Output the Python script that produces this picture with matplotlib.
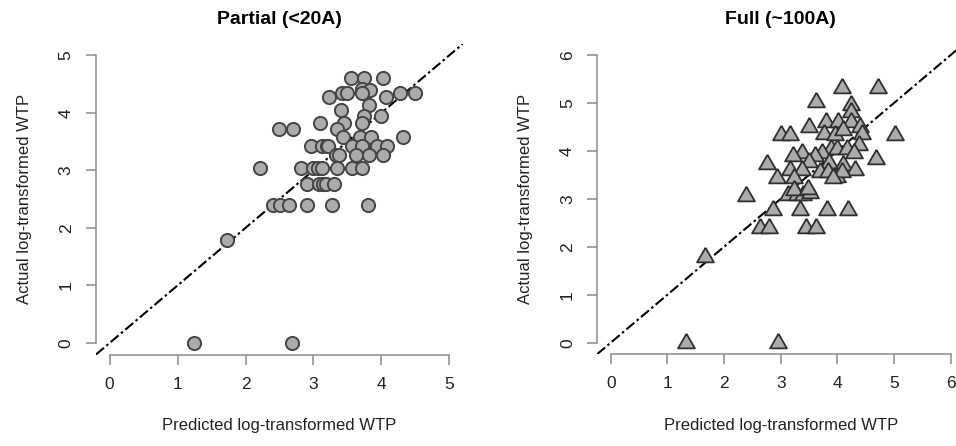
import numpy as np
import matplotlib
matplotlib.use("Agg")
import matplotlib.pyplot as plt

plt.rcParams['font.family'] = ['Liberation Sans', 'DejaVu Sans']

# ---------------- data ----------------
partial_pred = [3.55, 3.74, 4.02,
                3.72, 3.83,
                3.42, 3.49, 3.71, 4.28, 4.49,
                3.23, 4.07,
                3.81, 3.41, 3.74, 4.00,
                3.09, 3.45, 3.71,
                2.49, 2.70, 3.34,
                3.43, 3.68, 3.85, 4.31,
                2.96, 3.12, 3.20, 3.22, 3.56, 3.71, 3.93, 4.08,
                3.33, 3.37, 3.63, 3.81, 4.03,
                2.22, 2.82, 2.99, 3.06, 3.13, 3.34, 3.57, 3.71,
                2.90, 3.08, 3.14, 3.18, 3.30,
                2.41, 2.50, 2.64, 2.91, 3.27, 3.80,
                1.73, 1.24, 2.69]
partial_act = [4.61, 4.61, 4.61,
               4.41, 4.39,
               4.34, 4.34, 4.34, 4.34, 4.34,
               4.28, 4.28,
               4.13, 4.04, 3.95, 3.94,
               3.83, 3.83, 3.83,
               3.71, 3.71, 3.71,
               3.58, 3.58, 3.58, 3.58,
               3.43, 3.43, 3.43, 3.43, 3.43, 3.43, 3.43, 3.43,
               3.26, 3.26, 3.26, 3.26, 3.26,
               3.04, 3.04, 3.04, 3.04, 3.04, 3.04, 3.04, 3.04,
               2.77, 2.77, 2.77, 2.77, 2.77,
               2.40, 2.40, 2.40, 2.40, 2.40, 2.40,
               1.79, 0.0, 0.0]

full_pred = [4.08, 4.71,
             3.62,
             4.24, 4.24,
             3.50, 3.80, 4.01, 4.24, 4.40,
             3.01, 3.17, 3.77, 3.96, 4.10, 4.43, 5.02,
             4.39, 3.88, 4.00, 4.17, 4.30,
             3.38, 3.22, 3.72, 3.60,
             4.69,
             2.76, 3.50, 3.85, 4.10,
             4.31, 3.16, 3.38, 3.70, 3.83, 4.00, 4.08,
             2.93, 3.24, 3.93,
             3.12, 3.28, 3.40, 3.52, 3.24, 3.49,
             2.38,
             2.87, 3.34, 3.82, 4.18,
             2.64, 2.79, 3.44, 3.62,
             1.67,
             1.33, 2.96]
full_act = [5.31, 5.31,
            5.03,
            4.96, 4.82,
            4.50, 4.61, 4.61, 4.61, 4.50,
            4.33, 4.33, 4.36, 4.33, 4.44, 4.36, 4.33,
            4.12, 4.05, 4.05, 4.05, 3.95,
            3.95, 3.90, 3.95, 3.90,
            3.84,
            3.72, 3.77, 3.75, 3.71,
            3.60, 3.60, 3.60, 3.55, 3.55, 3.45, 3.55,
            3.43, 3.43, 3.43,
            3.08, 3.08, 3.08, 3.12, 3.18, 3.20,
            3.05,
            2.77, 2.77, 2.77, 2.77,
            2.39, 2.39, 2.39, 2.39,
            1.79,
            0.0, 0.0]

partial_ticks = [0, 1, 2, 3, 4, 5]
full_ticks = [0, 1, 2, 3, 4, 5, 6]

# ---------------- figure ----------------
W, H = 956, 446
fig = plt.figure(figsize=(W / 100, H / 100), dpi=100)

# triangle with centroid at the point (like R pch=24)
tri = [(0, 1), (-0.866, -0.5), (0.866, -0.5), (0, 1)]


def style_axes(ax, ticks, title):
    lo, hi = ticks[0], ticks[-1]
    ext = 0.04 * (hi - lo)
    ax.set_xlim(lo - ext, hi + ext)
    ax.set_ylim(lo - ext, hi + ext)
    ax.set_xticks(ticks)
    ax.set_yticks(ticks)
    ax.set_yticklabels([str(t) for t in ticks], rotation=90, va='center')
    for s in ['top', 'right']:
        ax.spines[s].set_visible(False)
    for s in ['left', 'bottom']:
        ax.spines[s].set_bounds(lo, hi)
        ax.spines[s].set_color('#8a8a8a')
        ax.spines[s].set_linewidth(1.1)
    ax.tick_params(length=7, width=1.1, color='#8a8a8a', labelsize=12.5,
                   labelcolor='#222222')
    ax.tick_params(axis='x', pad=9)
    ax.tick_params(axis='y', pad=9)
    ax.set_xlabel('Predicted log-transformed WTP', fontsize=12, color='#222222', labelpad=19)
    ax.set_ylabel('Actual log-transformed WTP', fontsize=12, color='#222222', labelpad=19)
    ax.set_title(title, fontsize=14, fontweight='bold', pad=14)
    ax.axline((0, 0), slope=1, color='black', lw=1.5,
              linestyle=(0, (5, 1.5, 1.2, 1.5)), zorder=1)


ax1 = fig.add_axes([96 / W, (H - 354.5) / H, 367 / W, 310.8 / H])
style_axes(ax1, partial_ticks, 'Partial (<20A)')
ax1.plot(partial_pred, partial_act, 'o', ms=9.5, mfc='#ababab', mec='#454545',
         mew=1.4, zorder=3)

ax2 = fig.add_axes([597.1 / W, (H - 354.2) / H, 367.2 / W, 310.7 / H])
style_axes(ax2, full_ticks, 'Full (~100A)')
ax2.plot(full_pred, full_act, linestyle='none', marker=tri, ms=14, mfc='#ababab',
         mec='#303030', mew=1.3, zorder=3)

fig.savefig('out.png', dpi=100)
